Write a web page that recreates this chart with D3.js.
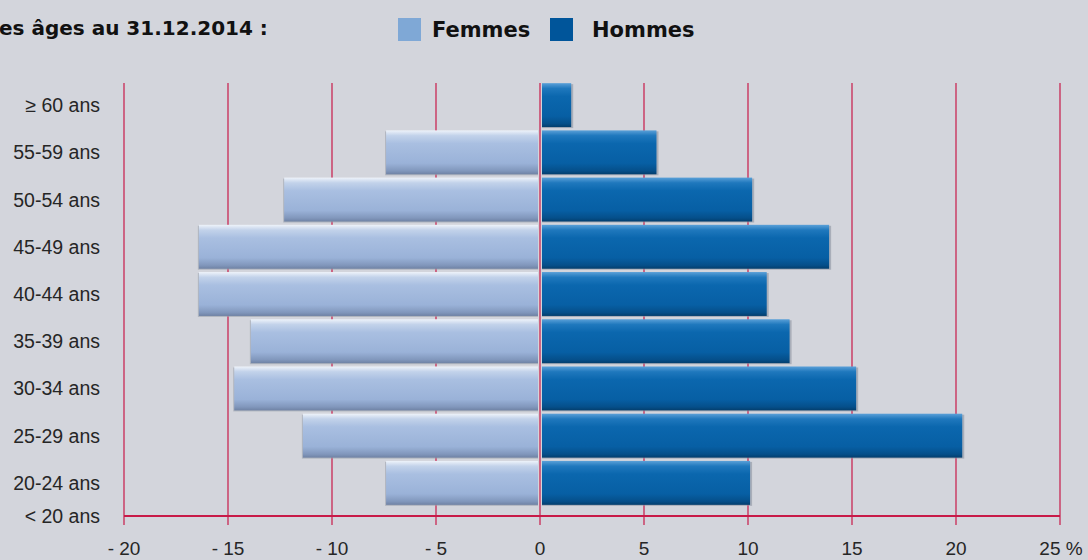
<!DOCTYPE html>
<html>
<head>
<meta charset="utf-8">
<script src="https://cdn.jsdelivr.net/npm/d3@7"></script>
<style>
  body { margin: 0; background: #d3d5dc; }
  #canvas svg { display: block; }
</style>
</head>
<body>
<div id="canvas"></div>
<script>
"use strict"

/* Data */
let ageGroups = ["≥ 60 ans", "55-59 ans", "50-54 ans", "45-49 ans", "40-44 ans",
    "35-39 ans", "30-34 ans", "25-29 ans", "20-24 ans"];
let femmes = [0, 7.4, 12.3, 16.4, 16.4, 13.9, 14.7, 11.4, 7.4];
let hommes = [1.5, 5.6, 10.2, 13.9, 10.9, 12.0, 15.2, 20.3, 10.1];
let bottomLabel = "< 20 ans";
let xTicks = [-20, -15, -10, -5, 0, 5, 10, 15, 20, 25];
let xTickLabels = ["- 20", "- 15", "- 10", "- 5", "0", "5", "10", "15", "20", "25 %"];
let seriesNames = ["Femmes", "Hommes"];
let titleText = "es âges au 31.12.2014 :";

/* Configuration variables: drawing */
let svgWidth = 1088;
let svgHeight = 560;
let plotTop = 83;
let axisY = 516;
let gridColor = "#c81a48";
let lightFont = "Liberation Sans, Arial, sans-serif";
let boldFont = "DejaVu Sans, Verdana, sans-serif";

let svg = d3.select("#canvas")
    .append("svg")
    .attr("width", svgWidth)
    .attr("height", svgHeight);

svg.append("rect")
    .attr("width", svgWidth)
    .attr("height", svgHeight)
    .attr("fill", "#d3d5dc");

/* gradients for the bars */
let defs = svg.append("defs");

function addGradient(id, stops) {
    let g = defs.append("linearGradient")
        .attr("id", id)
        .attr("x1", 0).attr("y1", 0)
        .attr("x2", 0).attr("y2", 1);
    stops.forEach(function (s) {
        g.append("stop").attr("offset", s[0]).attr("stop-color", s[1]);
    });
}

addGradient("gradF", [
    ["0%", "#eef3fa"], ["12%", "#c2d2ea"], ["30%", "#a9bfe1"],
    ["75%", "#9ab2d8"], ["92%", "#8197bc"], ["100%", "#6f82a4"]
]);
addGradient("gradH", [
    ["0%", "#5aa0d8"], ["12%", "#1f78bd"], ["30%", "#0b67ae"],
    ["75%", "#075fa4"], ["92%", "#054f8a"], ["100%", "#033e6d"]
]);

/* scales */
let x = d3.scaleLinear()
    .domain([-20, 25])
    .range([124, 1060]);

let y = d3.scaleBand()
    .domain(ageGroups)
    .range([81.5, 506.5])
    .paddingInner(0.07)
    .paddingOuter(0.035);

/* gridlines */
svg.append("g")
    .selectAll("line")
    .data(xTicks)
    .join("line")
    .attr("x1", d => x(d))
    .attr("x2", d => x(d))
    .attr("y1", plotTop)
    .attr("y2", axisY + 9)
    .attr("stroke", gridColor)
    .attr("stroke-width", 1.2);

/* bars */
let rows = ageGroups.map(function (g, i) {
    return { group: g, f: femmes[i], h: hommes[i] };
});

let barsF = svg.append("g").selectAll("g")
    .data(rows.filter(d => d.f > 0))
    .join("g");

barsF.append("rect")
    .attr("x", d => x(-d.f) - 1)
    .attr("y", d => y(d.group) + 1)
    .attr("width", d => x(0) - x(-d.f) - 1)
    .attr("height", y.bandwidth())
    .attr("fill", "#9aa0ab")
    .attr("opacity", 0.6);

barsF.append("rect")
    .attr("x", d => x(-d.f))
    .attr("y", d => y(d.group))
    .attr("width", d => x(0) - x(-d.f) - 2)
    .attr("height", y.bandwidth())
    .attr("fill", "url(#gradF)");

let barsH = svg.append("g").selectAll("g")
    .data(rows.filter(d => d.h > 0))
    .join("g");

barsH.append("rect")
    .attr("x", x(0) + 2)
    .attr("y", d => y(d.group) + 1)
    .attr("width", d => x(d.h) - x(0))
    .attr("height", y.bandwidth())
    .attr("fill", "#8e95a2")
    .attr("opacity", 0.6);

barsH.append("rect")
    .attr("x", x(0) + 2)
    .attr("y", d => y(d.group))
    .attr("width", d => x(d.h) - x(0) - 2)
    .attr("height", y.bandwidth())
    .attr("fill", "url(#gradH)");

/* x axis line */
svg.append("line")
    .attr("x1", x(-20))
    .attr("x2", x(25))
    .attr("y1", axisY)
    .attr("y2", axisY)
    .attr("stroke", gridColor)
    .attr("stroke-width", 2);

/* x tick labels */
svg.append("g")
    .selectAll("text")
    .data(xTicks)
    .join("text")
    .attr("x", (d, i) => x(d) + (i === xTicks.length - 1 ? 1 : 0))
    .attr("y", 555)
    .attr("text-anchor", "middle")
    .attr("font-family", lightFont)
    .attr("font-size", 19)
    .attr("fill", "#262626")
    .text((d, i) => xTickLabels[i]);

/* y labels */
let labelStyle = function (sel) {
    sel.attr("text-anchor", "end")
        .attr("font-family", lightFont)
        .attr("font-size", 19.5)
        .attr("fill", "#262626");
};

svg.append("g")
    .selectAll("text")
    .data(ageGroups)
    .join("text")
    .attr("x", 100)
    .attr("y", d => y(d) + y.bandwidth() / 2 + 7)
    .call(labelStyle)
    .text(d => d);

svg.append("text")
    .attr("x", 100)
    .attr("y", axisY + 7)
    .call(labelStyle)
    .text(bottomLabel);

/* title (cut at left edge) */
svg.append("text")
    .attr("x", -1)
    .attr("y", 35)
    .attr("font-family", boldFont)
    .attr("font-weight", "bold")
    .attr("font-size", 20)
    .attr("fill", "#111")
    .text(titleText);

/* legend */
let legend = svg.append("g");
let legendX = [398, 550];
let legendColors = ["#7fa8d6", "#00559a"];

legend.selectAll("rect")
    .data(seriesNames)
    .join("rect")
    .attr("x", (d, i) => legendX[i])
    .attr("y", 18)
    .attr("width", 23)
    .attr("height", 23)
    .attr("fill", (d, i) => legendColors[i]);

legend.selectAll("text")
    .data(seriesNames)
    .join("text")
    .attr("x", (d, i) => legendX[i] + 34 + i * 8)
    .attr("y", 37)
    .attr("font-family", boldFont)
    .attr("font-weight", "bold")
    .attr("font-size", 21)
    .attr("fill", "#111")
    .text(d => d);
</script>
</body>
</html>
